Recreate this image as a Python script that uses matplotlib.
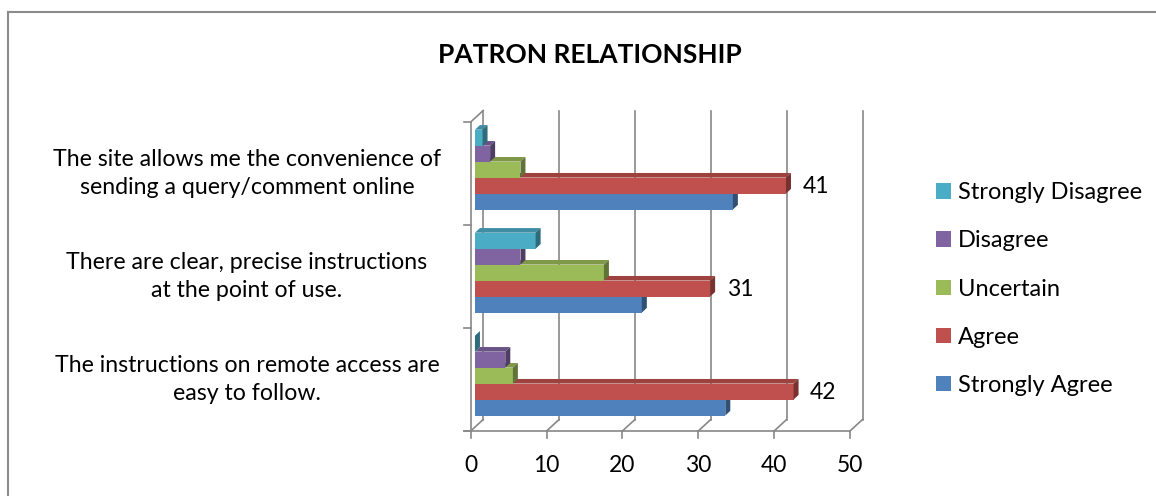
import numpy as np
import matplotlib.pyplot as plt
from matplotlib.patches import Polygon, Patch
from matplotlib.lines import Line2D
from matplotlib import colors as mcolors
from matplotlib import transforms as mtrans

plt.rcParams['font.family'] = ['Lato', 'DejaVu Sans']

# data (bottom category first)
categories = ['The instructions on remote access are\neasy to follow.',
              'There are clear, precise instructions\nat the point of use.',
              'The site allows me the convenience of\nsending a query/comment online']
series = ['Strongly Agree', 'Agree', 'Uncertain', 'Disagree', 'Strongly Disagree']
strongly_agree = [33, 22, 34]
agree = [42, 31, 41]
uncertain = [5, 17, 6]
disagree = [4, 6, 2]
strongly_disagree = [0, 8, 1]
xticks = [0, 10, 20, 30, 40, 50]
colors = ['#4F81BD', '#C0504D', '#9BBB59', '#8064A2', '#4BACC6']

values = [strongly_agree, agree, uncertain, disagree, strongly_disagree]

W, H = 1156, 496
fig = plt.figure(figsize=(W / 100, H / 100), dpi=100)

# axes placed so the front plane of the 3d box lines up with the picture
ax_l, ax_r, ax_b, ax_t = 455, 880, 445, 100
x0_px, x50_px = 470.7, 850.0
y0_px, y3_px = 431.0, 122.0
ppu_x = (x50_px - x0_px) / 50
ppu_y = (y0_px - y3_px) / 3
ax = fig.add_axes([ax_l / W, 1 - ax_b / H, (ax_r - ax_l) / W, (ax_b - ax_t) / H])
ax.set_xlim((ax_l - x0_px) / ppu_x, (ax_r - x0_px) / ppu_x)
ax.set_ylim((y0_px - ax_b) / ppu_y, (y0_px - ax_t) / ppu_y)
ax.axis('off')

DX = 12.5 / ppu_x
DY = 11.5 / ppu_y
grid_c = '#888888'
glw = 1.2

# back wall gridlines + floor diagonals
for v in xticks:
    ax.plot([v + DX, v + DX], [DY, 3 + DY], color=grid_c, lw=glw, zorder=1)
    ax.plot([v, v], [0, -7 / ppu_y], color=grid_c, lw=glw, zorder=1)
    ax.plot([v, v + DX], [0, DY], color=grid_c, lw=glw, zorder=1)
    ax.annotate(str(v), (v, 0), xytext=(0, -25), textcoords='offset points',
                ha='center', va='center', fontsize=16.5, annotation_clip=False)
# front floor edge and left wall
ax.plot([-7 / ppu_x, 50], [0, 0], color=grid_c, lw=glw, zorder=1)
ax.plot([0, 0], [0, 3], color=grid_c, lw=glw, zorder=1)
ax.plot([0, DX], [3, 3 + DY], color=grid_c, lw=glw, zorder=1)
for c in range(4):
    ax.plot([-7 / ppu_x, 0], [c, c], color=grid_c, lw=glw, zorder=1)

# bars
h = 0.155
start = 0.5 - 2.5 * h
d0, dd = 0.34, 0.40
ox, oy = d0 * DX, d0 * DY
n = len(categories)
for k, (vals, col) in enumerate(zip(values, colors)):
    rgb = np.array(mcolors.to_rgb(col))
    top_c = rgb * 0.82
    side_c = rgb * 0.62
    yb = np.arange(n) + start + k * h + oy
    ax.barh(yb, vals, height=h, left=ox, align='edge', color=col,
            edgecolor='none', zorder=3 + k, label=series[k])
    for i, v in enumerate(vals):
        yt = yb[i] + h
        top = [(ox, yt), (ox + v, yt), (ox + v + dd * DX, yt + dd * DY),
               (ox + dd * DX, yt + dd * DY)]
        side = [(ox + v, yb[i]), (ox + v + dd * DX, yb[i] + dd * DY),
                (ox + v + dd * DX, yt + dd * DY), (ox + v, yt)]
        ax.add_patch(Polygon(top, closed=True, facecolor=top_c, edgecolor='none', zorder=3 + k))
        ax.add_patch(Polygon(side, closed=True, facecolor=side_c, edgecolor='none', zorder=3 + k))
        if series[k] == 'Agree':
            ax.annotate(str(v), (ox + v, yb[i] + h / 2), xytext=(12, -1),
                        textcoords='offset points', ha='left', va='center',
                        fontsize=16.5, annotation_clip=False)

# category labels
trans = mtrans.blended_transform_factory(fig.transFigure, ax.transData)
for i, lab in enumerate(categories):
    ax.text(247 / W, i + 0.5, lab, transform=trans, ha='center', va='center',
            multialignment='center', fontsize=16.7, linespacing=1.4, clip_on=False)

fig.text(590 / W, 1 - 55 / H, 'PATRON RELATIONSHIP', ha='center', va='center',
         fontsize=19, fontweight='bold')

handles = [Patch(facecolor=colors[k], label=series[k]) for k in range(4, -1, -1)]
fig.legend(handles=handles, loc='center left', bbox_to_anchor=(915 / W, 1 - 289 / H),
           frameon=False, fontsize=17, handlelength=0.62, handleheight=0.62,
           handletextpad=0.3, labelspacing=1.15)

# outer chart border (only top and left visible)
fig.add_artist(Line2D([8 / W, 8 / W], [0, 1 - 12 / H], color='#8c8c8c', lw=1.5))
fig.add_artist(Line2D([8 / W, 1], [1 - 12 / H, 1 - 12 / H], color='#8c8c8c', lw=1.5))

fig.savefig('out.png', dpi=100)
